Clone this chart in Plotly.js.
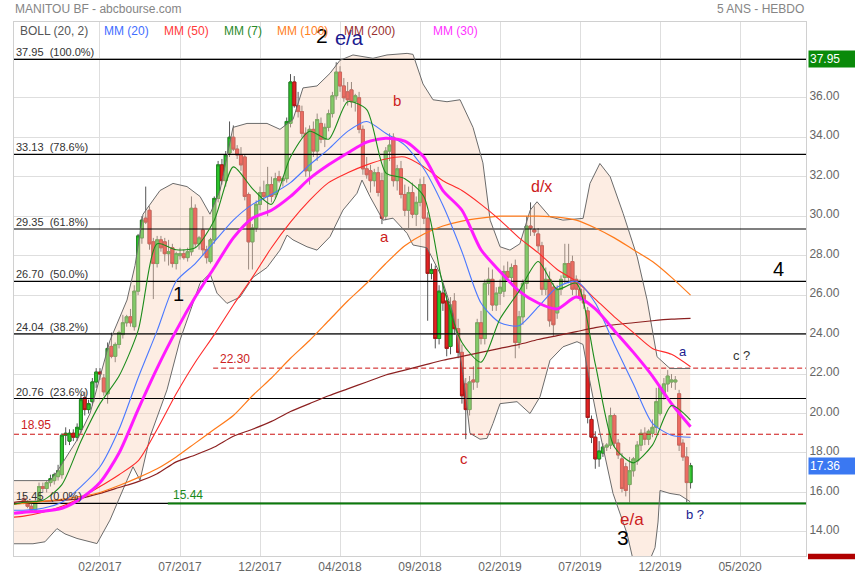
<!DOCTYPE html>
<html><head><meta charset="utf-8">
<script src="https://cdn.plot.ly/plotly-3.0.1.min.js"></script>
<style>html,body{margin:0;padding:0;background:#fff;}#chart{width:855px;height:580px;}</style>
</head><body><div id="chart"></div>
<script>
// ---- weekly candles (index 0 = week of 2016-09-23) ----
const startDate = Date.UTC(2016, 8, 23);
function d(i){ const t = new Date(startDate + i*7*86400000); return t.toISOString().slice(0,19).replace('T',' '); }

const opens = [15.7,15.5,15.3,15.1,15.6,16.3,16.2,16.5,16.6,16.8,16.9,18.9,18.6,19.0,18.8,19.2,20.8,20.2,20.6,21.6,
22.1,21.8,21.0,23.4,22.9,23.5,24.0,24.6,24.9,24.4,26.2,28.9,29.9,30.3,28.7,27.6,28.8,28.7,28.1,28.4,
27.6,28.0,28.1,27.9,28.2,30.4,28.6,29.3,28.3,27.7,28.8,30.9,32.6,31.8,33.2,34.0,33.4,33.1,33.0,31.1,
28.7,29.4,30.6,31.2,31.0,31.6,31.1,32.0,31.8,31.9,34.7,36.8,35.6,35.3,34.2,32.3,34.4,33.3,34.7,33.9,
34.5,35.2,36.1,37.3,36.6,36.3,36.4,35.8,36.0,34.4,32.4,32.3,31.8,32.2,31.8,30.0,33.3,34.0,31.8,32.4,
31.1,30.3,31.2,30.1,30.7,31.6,29.9,27.1,27.3,23.8,26.1,25.7,23.4,25.7,24.3,23.1,21.5,20.2,21.7,21.6,
24.6,23.8,26.6,26.8,25.5,26.1,26.2,27.2,26.9,27.5,23.6,24.9,26.6,29.5,29.3,29.1,28.5,26.3,26.8,26.4,
25.1,26.3,26.9,27.6,27.7,26.8,26.3,26.0,25.2,19.7,18.8,17.7,18.0,18.3,18.4,19.9,18.5,17.7,17.3,16.4,
17.1,17.6,18.4,19.0,18.7,19.0,19.3,20.0,21.0,21.5,21.6,21.6,21.0,18.5,17.8,16.5];
const highs = [15.9,15.6,15.5,15.6,16.5,16.5,16.6,16.9,17.0,17.4,19.0,19.3,19.2,19.2,19.5,21.0,21.1,20.7,21.8,22.3,
22.3,22.0,23.6,24.1,23.6,24.2,25.0,25.0,25.3,26.5,29.1,30.0,31.5,30.5,28.9,29.0,29.0,28.9,28.8,28.6,
28.2,28.4,28.3,28.4,31.0,30.6,29.0,30.0,28.5,28.9,31.0,32.8,32.9,33.3,34.8,34.6,33.6,33.5,33.1,31.2,
29.6,30.8,31.5,31.8,32.5,32.0,32.2,32.3,32.0,35.0,37.2,37.1,36.3,35.6,34.5,34.6,34.8,35.2,35.0,34.7,
35.4,36.3,37.8,37.6,37.0,36.8,36.8,36.2,36.3,34.6,33.0,32.6,32.4,32.5,32.2,33.5,34.2,34.2,32.6,32.8,
31.6,31.5,31.7,31.0,31.9,32.0,30.2,27.6,27.5,26.5,26.6,26.0,25.9,26.1,24.8,23.5,21.8,21.9,22.4,24.8,
25.2,26.8,27.4,27.3,26.4,26.8,27.5,27.7,27.6,27.8,25.2,26.8,30.0,30.7,30.5,29.4,28.7,27.4,27.2,26.6,
26.5,27.0,28.6,28.6,28.0,27.0,26.8,26.3,25.4,19.9,19.1,18.6,18.5,18.5,20.3,20.0,18.7,18.0,17.5,17.8,
17.8,18.6,19.2,19.3,19.2,19.7,21.3,21.4,21.8,22.2,22.0,21.9,21.2,18.7,18.3,17.5];
const lows = [15.4,15.2,15.0,15.0,15.5,16.0,16.0,16.3,16.4,16.6,16.7,18.4,18.4,18.6,18.6,19.0,19.9,20.0,20.4,21.3,
21.7,20.9,20.5,22.8,22.6,23.3,23.8,24.4,24.4,24.2,26.0,28.6,29.6,28.3,25.8,27.4,28.2,27.7,27.5,27.4,
27.3,27.8,27.8,27.7,28.0,28.4,28.3,28.0,27.6,27.6,28.6,30.7,31.6,31.5,33.0,33.3,32.9,32.3,30.8,27.3,
27.3,29.2,30.3,30.8,30.0,30.7,30.9,31.7,31.5,31.7,34.5,35.5,35.0,34.0,32.0,31.6,33.0,32.8,33.7,33.5,
34.3,35.0,35.9,36.3,35.8,35.6,35.5,35.3,34.2,32.1,31.9,31.2,31.5,31.0,29.6,29.8,32.8,31.5,31.3,30.9,
30.0,29.4,29.9,29.5,30.5,29.6,24.7,26.8,23.3,23.5,25.2,22.9,23.0,24.0,22.8,20.5,18.7,19.9,21.2,21.3,
23.5,23.5,26.0,25.2,25.2,25.5,25.9,26.7,26.5,22.8,23.3,24.5,26.3,29.0,29.0,28.2,26.0,26.0,24.4,23.9,
24.8,26.0,26.6,26.6,26.0,25.9,25.7,25.3,19.5,18.5,17.2,17.3,17.8,18.1,18.2,18.3,17.7,16.0,15.8,15.5,
16.8,17.4,18.1,18.4,18.4,18.8,19.0,19.9,20.7,21.1,21.3,21.2,18.1,17.6,15.5,16.2];
const closes = [15.5,15.3,15.1,15.5,16.3,16.2,16.5,16.7,16.9,17.1,18.9,19.0,19.0,18.8,19.3,20.7,20.2,20.5,21.6,22.1,
22.0,21.1,23.3,22.9,23.5,24.1,24.6,24.9,24.6,26.2,29.0,29.8,29.7,28.6,27.6,28.8,28.4,28.1,28.2,27.6,
28.1,28.1,27.9,28.2,30.4,28.6,28.9,28.3,27.9,28.8,30.9,32.6,31.8,33.1,34.0,33.4,33.1,32.6,31.0,28.7,
29.4,30.6,31.2,31.0,31.6,31.0,31.9,31.8,31.9,34.8,36.8,35.6,35.3,34.2,32.3,34.4,33.3,34.9,33.9,34.5,
35.2,36.1,37.3,36.6,36.0,35.9,35.8,36.1,34.4,32.4,32.1,31.8,32.2,31.2,29.9,33.3,33.6,31.8,32.4,31.1,
30.3,31.2,30.1,30.7,31.6,29.9,27.1,27.3,23.8,26.2,25.6,23.3,25.5,24.3,23.1,20.9,20.2,21.6,21.6,24.6,
23.8,26.6,26.8,25.5,26.1,26.4,27.2,26.9,27.4,23.6,24.9,26.6,29.5,29.4,29.2,28.5,26.3,26.8,24.7,24.5,
26.3,26.8,27.6,26.9,26.3,26.3,25.9,25.6,19.8,18.8,17.7,18.1,18.3,18.4,19.9,18.5,17.9,16.2,16.1,17.1,
17.7,18.4,19.0,18.7,19.1,19.3,20.6,21.3,21.5,21.9,21.7,21.7,18.4,17.8,16.5,17.36];

// ---- moving averages, read at sample weeks ----
const maIdx = [-2.57,0,5,10,15,20,25,30,35,40,45,50,55,60,65,70,75,80,85,90,95,100,105,110,115,120,125,130,135,140,145,150,155,160,165,170,175];
const mm7   = [15.4,15.5,15.6,16.4,18.6,20.5,21.9,24.2,28.6,28.3,28.4,29.8,32.5,31.4,30.6,33.0,34.3,33.9,35.8,35.4,32.2,31.9,31.0,26.5,23.6,22.6,24.8,26.2,27.7,26.3,26.6,22.5,18.3,17.5,18.4,20.4,19.67];
const mm20  = [15.1,15.1,15.2,15.5,16.3,17.3,19.2,21.8,24.2,26.7,27.6,28.7,29.8,30.6,31.1,31.7,32.6,33.4,34.3,34.8,34.2,33.6,32.4,30.55,28.2,25.6,24.6,24.45,25.4,26.4,26.7,25.6,23.5,21.5,19.5,18.9,18.8];
const mm30  = [14.95,15.0,15.05,15.2,15.7,16.5,18.0,20.2,22.3,24.2,25.9,27.4,28.9,29.9,30.3,31.0,31.9,32.6,33.2,33.75,33.95,33.8,33.0,31.3,30.3,28.3,27.2,26.2,25.6,25.3,25.9,25.3,24.2,23.1,21.9,20.5,19.33];
const mm50  = [14.75,14.8,15.0,15.3,15.75,16.3,16.9,17.6,19.2,21.0,22.6,24.0,25.5,26.9,28.4,29.7,30.8,31.7,32.2,32.6,32.9,33.0,32.5,31.8,31.3,30.6,29.8,28.9,28.15,27.3,26.7,25.8,24.9,24.1,23.3,23.0,22.37];
const mm100 = [15.4,15.45,15.55,15.65,15.8,16.0,16.35,16.75,17.2,17.8,18.5,19.2,19.9,20.9,21.8,22.8,23.7,24.7,25.7,26.6,27.6,28.5,29.1,29.5,29.75,29.9,30.0,30.0,30.0,29.95,29.8,29.4,28.9,28.3,27.7,26.9,26.0];
const mm200 = [15.5,15.55,15.55,15.6,15.7,15.95,16.25,16.55,16.95,17.55,17.9,18.3,18.85,19.2,19.6,20.1,20.5,20.9,21.25,21.6,21.95,22.2,22.45,22.7,22.9,23.1,23.3,23.5,23.75,23.95,24.15,24.35,24.5,24.6,24.7,24.78,24.82];

// ---- Bollinger (20, 2) ----
const bbUpIdx = [-2.57,6.88,8.71,13.96,17.38,22.62,27.09,29.19,31.29,35.75,39.16,42.83,46.25,48.87,51.5,54.91,58.58,63.83,67.24,70.66,73.28,76.96,80.37,83.0,86.4,91.65,95.33,100.6,102.15,104.78,107.4,111.08,114.5,117.9,120.5,122.4,125.0,127.6,130.2,132.9,134.7,138.1,141.5,146.8,148.6,151.2,153.9,157.3,161.0,163.6,166.2,169.6,174.9];
const bbUp = [16.6,16.6,17.05,18.65,20.0,23.7,25.75,27.5,30.1,31.3,31.66,31.5,31.0,30.1,31.3,34.5,34.7,34.7,34.4,34.9,36.5,36.6,37.24,37.9,38.17,38.0,38.17,38.25,38.2,36.7,35.9,35.8,35.9,34.5,32.7,29.8,28.45,28.28,28.6,30.3,30.73,29.97,29.8,29.89,31.66,32.67,32.0,30.14,27.94,25.75,22.88,22.28,22.28];
const bbLowIdx = [-2.57,2.41,5.56,8.71,10.81,13.96,19.21,22.62,27.09,28.66,30.5,33.12,37.59,41.0,46.25,48.87,50.7,53.33,56.75,60.16,63.83,67.24,69.09,70.66,74.33,76.96,80.37,83.78,87.45,88.77,90.87,94.28,96.9,100.6,102.15,105.83,109.24,112.65,115.28,117.1,119.74,121.58,123.15,125.0,129.45,132.86,135.49,138.11,141.52,145.2,146.77,147.82,151.23,154.65,158.32,159.89,163.04,165.67,166.46,166.98,169.6,172.2,174.9];
const bbLow = [13.4,13.4,13.5,14.17,13.9,13.67,13.41,14.6,16.62,17.3,16.62,18.82,21.2,23.72,26.6,27.1,26.1,25.58,25.9,26.9,27.4,28.28,29.04,28.8,28.45,28.28,28.96,30.31,31.16,31.83,30.99,29.8,29.9,29.13,28.54,28.4,27.1,25.08,22.04,19.0,18.7,18.74,19.5,20.5,20.6,20.0,20.85,22.7,23.38,23.64,23.5,22.37,19.0,15.95,13.92,12.6,12.0,13.2,14.5,16.1,15.95,15.87,15.53];

// ---- levels ----
const fibLevels = [37.95, 33.13, 29.35, 26.70, 24.04, 20.76, 15.45];
const fibPct = ['100.0%','78.6%','61.8%','50.0%','38.2%','23.6%','0.0%'];
const redLevels = [22.30, 18.95];
const redStart = [49.7, -2.57];
const greenLevel = 15.44, greenStart = 37.8;
const lastPrice = 17.36, topPrice = 37.95;

const tickIdx = [20,41,62,83,104,125,146,167,188];
const tickLabels = ['02/2017','07/2017','12/2017','04/2018','09/2018','02/2019','07/2019','12/2019','05/2020'];

const X0 = -2.57, X1 = 205.3;
const FONT = 'Arial, "Liberation Sans", sans-serif';
const dates = closes.map((_, i) => d(i));

const traces = [];
// Bollinger fill
traces.push({type:'scatter', mode:'lines', x: bbUpIdx.map(d).concat(bbLowIdx.slice().reverse().map(d)),
  y: bbUp.concat(bbLow.slice().reverse()), fill:'toself', fillcolor:'rgba(250,212,188,0.42)', line:{width:0}, hoverinfo:'skip'});
// fib lines
fibLevels.forEach(v => traces.push({type:'scatter', mode:'lines', x:[d(X0), d(X1)], y:[v, v], line:{color:'#000', width:1.2}}));
redLevels.forEach((v, k) => traces.push({type:'scatter', mode:'lines', x:[d(redStart[k]), d(X1)], y:[v, v], line:{color:'#cc1111', width:1, dash:'5px,3px'}}));
traces.push({type:'scatter', mode:'lines', x:[d(greenStart), d(X1)], y:[greenLevel, greenLevel], line:{color:'#0b7a0b', width:2}});
// Bollinger lines
traces.push({type:'scatter', mode:'lines', x: bbUpIdx.map(d), y: bbUp, line:{color:'#6b6b6b', width:1}});
traces.push({type:'scatter', mode:'lines', x: bbLowIdx.map(d), y: bbLow, line:{color:'#6b6b6b', width:1}});
// candles: wicks
traces.push({type:'candlestick', x: dates, open: opens, high: highs, low: lows, close: closes, whiskerwidth: 0,
  increasing:{line:{color:'#555', width:1}, fillcolor:'#555'}, decreasing:{line:{color:'#555', width:1}, fillcolor:'#555'}, hoverinfo:'skip'});
// candles: bodies
const bodyHi = opens.map((o, i) => Math.max(o, closes[i]));
const bodyLo = opens.map((o, i) => Math.min(o, closes[i]));
traces.push({type:'candlestick', x: dates, open: opens, high: bodyHi, low: bodyLo, close: closes, whiskerwidth: 0,
  increasing:{line:{color:'#1f8f1f', width:1}, fillcolor:'#2cc52c'}, decreasing:{line:{color:'#b01818', width:1}, fillcolor:'#e42222'}, hoverinfo:'skip'});
// moving averages
const maX = maIdx.map(d);
const ma = (y, color, w) => traces.push({type:'scatter', mode:'lines', x: maX, y: y, line:{color: color, width: w, shape:'spline', smoothing:0.7}});
ma(mm200, '#8c2020', 1.2);
ma(mm100, '#ff7a1a', 1.2);
ma(mm50, '#ff2a2a', 1.1);
ma(mm20, '#4a78ff', 1.1);
ma(mm30, '#ff1aff', 3);
ma(mm7, '#1c8c1c', 1.1);

const ann = [];
const T = (i, v, text, color, size, extra) => ann.push(Object.assign({x: d(i), y: v, xref:'x', yref:'y', text: text, showarrow:false,
  font:{family: FONT, size: size, color: color}}, extra || {}));
// fib labels
fibLevels.forEach((v, k) => T(X0, v, v.toFixed(2) + '\u00a0\u00a0(' + fibPct[k] + ')', '#333', 11, {xanchor:'left', yanchor:'bottom', yshift:-1}));
T(-1.2, 18.95, '18.95', '#cc2222', 12, {xanchor:'left', yanchor:'bottom'});
T(51.0, 22.30, '22.30', '#cc2222', 12, {xanchor:'left', yanchor:'bottom'});
T(38.6, 15.44, '15.44', '#1a8a1a', 12, {xanchor:'left', yanchor:'bottom'});
// wave labels
T(78.3, 39.18, '2', '#000', 21);
T(85.4, 39.03, 'e/a', '#1b1b8f', 20);
T(97.96, 35.88, 'b', '#cc2020', 15);
T(94.8, 28.99, 'a', '#cc2020', 15);
T(40.5, 26.05, '1', '#000', 20);
T(135.8, 31.52, 'd/x', '#cc2020', 16);
T(198.2, 27.32, '4', '#000', 20);
T(115.5, 17.73, 'c', '#cc2020', 15);
T(173.0, 23.12, 'a', '#1b1b8f', 13);
T(188.5, 22.92, 'c ?', '#333', 13);
T(159.6, 14.65, 'e/a', '#cc2020', 17);
T(157.3, 13.74, '3', '#000', 21);
T(176.2, 14.9, 'b ?', '#1b1b8f', 13);
// legend row
const P = (px, py, text, color, size, extra) => ann.push(Object.assign({x:(px-14)/792, y:(556-py)/534, xref:'paper', yref:'paper', text:text, showarrow:false,
  xanchor:'left', yanchor:'middle', font:{family:FONT, size:size, color:color}}, extra || {}));
P(18, 31, 'BOLL (20, 2)', '#555', 12);
P(102, 31, 'MM (20)', '#3f6dff', 12);
P(162, 31, 'MM (50)', '#ff3a3a', 12);
P(222, 31, 'MM (7)', '#2a8a2a', 12);
P(275, 31, 'MM (100)', '#ff7f1e', 12);
P(342, 31, 'MM (200)', '#9a3030', 12);
P(431, 31, 'MM (30)', '#ff33ff', 12);
P(13, 9, 'MANITOU BF - abcbourse.com', '#858585', 12);
P(806, 9, '5 ANS - HEBDO', '#858585', 12, {xanchor:'right'});
// right price boxes
ann.push({xref:'paper', yref:'y', x:1, y: topPrice, xanchor:'left', xshift:2, text: topPrice.toFixed(2), showarrow:false,
  bgcolor:'#0a8a0a', width:45, height:14, align:'left', font:{family:FONT, size:12, color:'#fff'}});
ann.push({xref:'paper', yref:'y', x:1, y: lastPrice, xanchor:'left', xshift:2, text: lastPrice.toFixed(2), showarrow:false,
  bgcolor:'#3a78f2', width:45, height:14, align:'left', font:{family:FONT, size:12, color:'#fff'}});

const layout = {
  width: 855, height: 580,
  margin: {l:14, r:49, t:22, b:24},
  paper_bgcolor:'#fff', plot_bgcolor:'#fff',
  showlegend:false, hovermode:false,
  boxgap: 0.12, boxgroupgap: 0.1,
  xaxis: {type:'date', range:[d(X0), d(X1)], tickvals: tickIdx.map(d), ticktext: tickLabels,
    showgrid:true, gridcolor:'#dedede', gridwidth:1, showline:true, mirror:true, linecolor:'#d0d0d0',
    ticks:'', tickfont:{family:FONT, size:12, color:'#666'}, rangeslider:{visible:false}, fixedrange:true, zeroline:false},
  yaxis: {side:'right', range:[12.78, 39.84], tick0:0, dtick:2, tickformat:'.2f',
    showgrid:true, gridcolor:'#dedede', showline:true, mirror:true, linecolor:'#d0d0d0',
    ticks:'', tickfont:{family:FONT, size:12, color:'#666'}, fixedrange:true, zeroline:false, ticklabelshift:-2},
  shapes: [{type:'rect', xref:'paper', yref:'paper', x0: 1 + 2/792, x1: 1 + 49/792, y0: -0.006, y1: 0.004, fillcolor:'#b00000', line:{width:0}}],
  annotations: ann
};
Plotly.newPlot('chart', traces, layout, {staticPlot:true, displayModeBar:false});
</script></body></html>
